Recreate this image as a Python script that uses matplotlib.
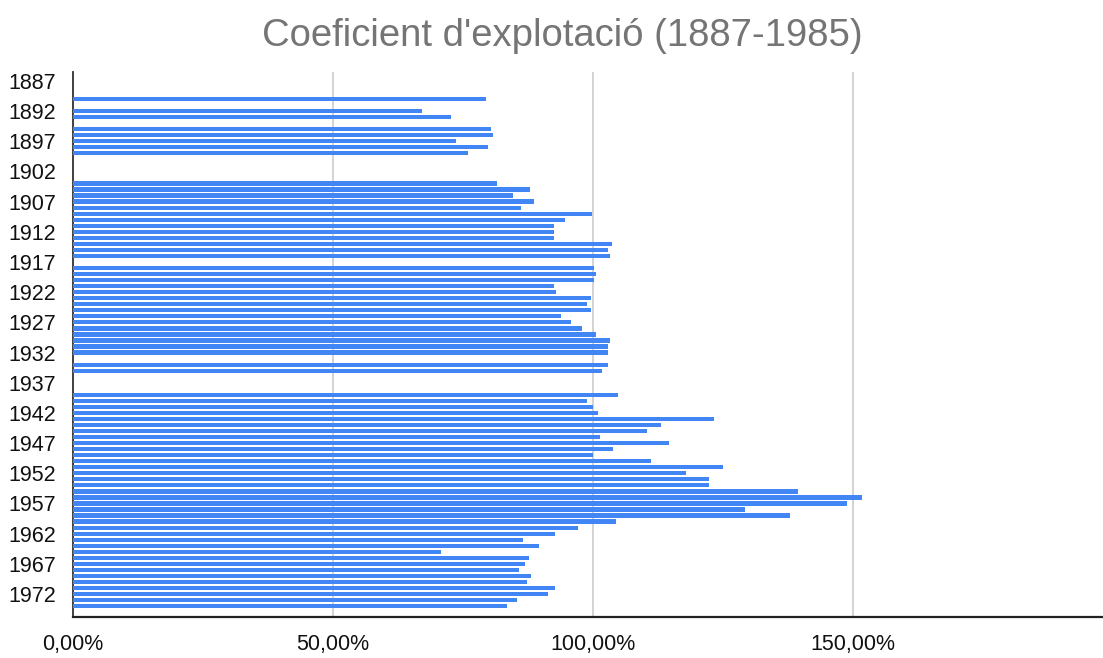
import matplotlib.pyplot as plt
from matplotlib.ticker import FuncFormatter

plt.rcParams['font.family'] = ['Liberation Sans', 'DejaVu Sans']

# years with data (gaps = no value)
years = [1890, 1892, 1893, 1895, 1896, 1897, 1898, 1899,
         1904, 1905, 1906, 1907, 1908, 1909, 1910,
         1911, 1912, 1913, 1914, 1915, 1916, 1918, 1919,
         1920, 1921, 1922, 1923, 1924, 1925, 1926, 1927, 1928, 1929,
         1930, 1931, 1932, 1934, 1935,
         1939, 1940, 1941, 1942, 1943, 1944, 1945, 1946, 1947, 1948, 1949,
         1950, 1951, 1952, 1953, 1954, 1955, 1956, 1957, 1958, 1959,
         1960, 1961, 1962, 1963, 1964, 1965, 1966, 1967, 1968, 1969,
         1970, 1971, 1972, 1973, 1974]
coef = [79.3, 67.0, 72.6, 80.4, 80.7, 73.7, 79.7, 75.9,
        81.5, 87.9, 84.5, 88.7, 86.1, 99.8, 94.6,
        92.4, 92.4, 92.4, 103.6, 102.8, 103.2, 100.2, 100.5,
        100.2, 92.4, 92.8, 99.5, 98.8, 99.5, 93.8, 95.7, 97.9, 100.5,
        103.2, 102.8, 102.8, 102.8, 101.7,
        104.8, 98.8, 99.9, 101.0, 123.3, 113.0, 110.3, 101.4, 114.5, 103.9, 99.9,
        111.1, 124.9, 117.8, 122.3, 122.3, 139.4, 151.7, 148.7, 129.1, 137.9,
        104.4, 97.1, 92.6, 86.5, 89.5, 70.8, 87.6, 86.9, 85.7, 88.0,
        87.2, 92.6, 91.4, 85.4, 83.5]
year_ticks = list(range(1887, 1973, 5))
pct_ticks = [0, 50, 100, 150]

fig = plt.figure(figsize=(11.03, 6.58), dpi=100)
ax = fig.add_axes([0.0662, 0.0623, 0.9338, 0.8277])

ax.barh(years, coef, height=0.7, color='#4285F4', zorder=3)

ax.set_ylim(1975.8, 1885.6)
ax.set_xlim(0, 198)
ax.set_yticks(year_ticks)
ax.set_xticks(pct_ticks)
ax.xaxis.set_major_formatter(FuncFormatter(lambda v, p: f"{v:.2f}".replace('.', ',') + '%'))
ax.tick_params(axis='both', length=0, labelsize=15.5, colors='#111111')
ax.tick_params(axis='y', pad=12)
ax.tick_params(axis='x', pad=12)

ax.grid(axis='x', color='#cccccc', linewidth=1.2, zorder=0)
for s in ['top', 'right']:
    ax.spines[s].set_visible(False)
ax.spines['left'].set_color('#333333')
ax.spines['bottom'].set_color('#222222')
ax.spines['left'].set_linewidth(1.3)
ax.spines['bottom'].set_linewidth(1.6)

fig.text(0.51, 0.945, "Coeficient d'explotació (1887-1985)", ha='center', va='center',
         fontsize=27.5, color='#757575')

fig.savefig('out.png', dpi=100)
